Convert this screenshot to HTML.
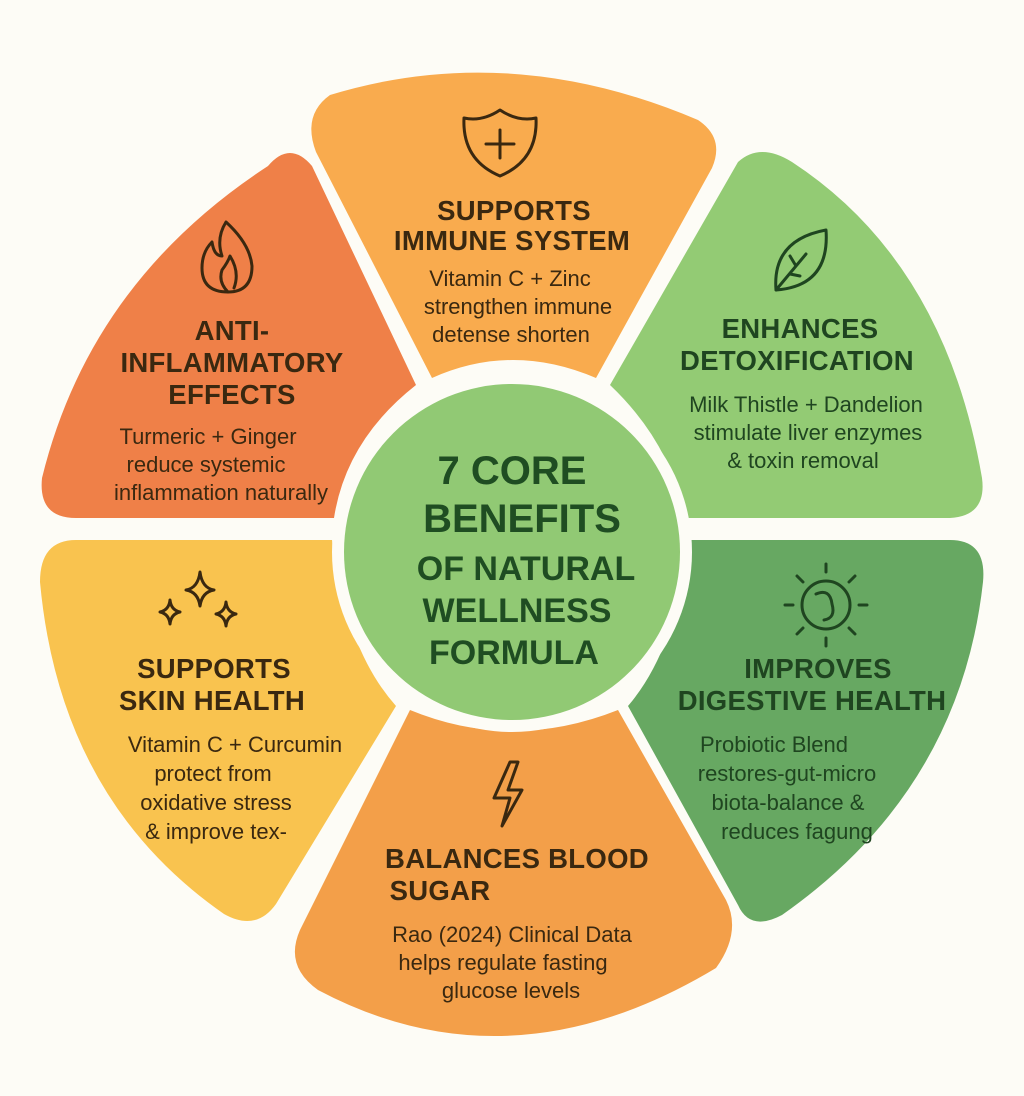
<!DOCTYPE html>
<html><head><meta charset="utf-8"><style>
html,body{margin:0;padding:0;background:#fdfcf6;}
svg{display:block}
text{font-family:"Liberation Sans",sans-serif;}
.t{font-weight:bold;font-size:27.5px;text-anchor:middle;letter-spacing:0.3px}
.b{font-size:22px;text-anchor:middle}
.c{font-weight:bold;font-size:40px;text-anchor:middle;fill:#1f4d22}
.c2{font-weight:bold;font-size:34px;text-anchor:middle;fill:#1f4d22}
.br{fill:#3a2810}.gr{fill:#1f4520}
.ic{fill:none;stroke-width:3;stroke-linecap:round;stroke-linejoin:round}
</style></head><body>
<svg width="1024" height="1096" viewBox="0 0 1024 1096">
<rect width="1024" height="1096" fill="#fdfcf6"/>
<path d="M330,95 Q510,40 698,120 Q725,138 712,168 L596,378 Q512,342 432,378 L316,152 Q302,115 330,95 Z" fill="#f9ab4e"/>
<path d="M738,162 Q760,142 792,162 Q945,262 982,478 Q987,516 950,518 L684,518 Q672,444 610,385 Z" fill="#93cb74"/>
<path d="M690,540 L950,540 Q987,540 983,582 Q960,790 782,915 Q750,932 738,905 L628,706 Q676,650 690,540 Z" fill="#67a862"/>
<path d="M410,710 Q512,752 618,710 L726,900 Q742,932 716,968 Q510,1092 318,990 Q284,966 300,930 Z" fill="#f39f49"/>
<path d="M40,582 Q40,540 76,540 L332,540 Q346,650 396,706 L276,904 Q256,932 224,914 Q60,800 40,582 Z" fill="#f9c34f"/>
<path d="M268,166 Q290,140 312,166 L416,385 Q346,440 334,518 L76,518 Q38,518 42,478 Q90,282 268,166 Z" fill="#ef8048"/>
<circle cx="512" cy="552" r="180" fill="#fdfcf6"/>
<circle cx="512" cy="552" r="168" fill="#91c974"/>
<text class="c" x="512" y="484">7 CORE</text>
<text class="c" x="522" y="532">BENEFITS</text>
<text class="c2" x="526" y="580">OF NATURAL</text>
<text class="c2" x="517" y="622">WELLNESS</text>
<text class="c2" x="514" y="664">FORMULA</text>
<path class="ic" stroke="#3a2810" d="M500,110 Q518,122 536,118 Q538,160 500,176 Q462,160 464,118 Q482,122 500,110 Z"/>
<path class="ic" stroke="#3a2810" d="M500,130 V158 M486,144 H514"/>
<text class="t br" x="514" y="220">SUPPORTS</text>
<text class="t br" x="512" y="250">IMMUNE SYSTEM</text>
<text class="b br" x="510" y="286">Vitamin C + Zinc</text>
<text class="b br" x="518" y="314">strengthen immune</text>
<text class="b br" x="511" y="342">detense shorten</text>
<path class="ic" stroke="#1f4520" d="M776,290 Q772,240 826,230 Q830,286 776,290 Z M776,290 L806,254 M796,266 L790,256 M790,274 L800,276"/>
<text class="t gr" x="800" y="338">ENHANCES</text>
<text class="t gr" x="797" y="370">DETOXIFICATION</text>
<text class="b gr" x="806" y="412">Milk Thistle + Dandelion</text>
<text class="b gr" x="808" y="440">stimulate liver enzymes</text>
<text class="b gr" x="803" y="468">&amp; toxin removal</text>
<circle class="ic" stroke="#1f4520" cx="826" cy="605" r="24"/>
<path class="ic" stroke="#1f4520" d="M826,572 V564 M826,638 V646 M793,605 H785 M859,605 H867 M803,582 L797,576 M849,582 L855,576 M803,628 L797,634 M849,628 L855,634 M816,594 Q830,588 832,604 Q836,618 824,620"/>
<text class="t gr" x="818" y="678">IMPROVES</text>
<text class="t gr" x="812" y="710">DIGESTIVE HEALTH</text>
<text class="b gr" x="774" y="752">Probiotic Blend</text>
<text class="b gr" x="787" y="781">restores-gut-micro</text>
<text class="b gr" x="788" y="810">biota-balance &amp;</text>
<text class="b gr" x="797" y="839">reduces fagung</text>
<path class="ic" stroke="#3a2810" d="M510,762 L494,798 H510 L502,826 L522,790 H508 L518,762 Z"/>
<text class="t br" x="517" y="868">BALANCES BLOOD</text>
<text class="t br" x="440" y="900">SUGAR</text>
<text class="b br" x="512" y="942">Rao (2024) Clinical Data</text>
<text class="b br" x="503" y="970">helps regulate fasting</text>
<text class="b br" x="511" y="998">glucose levels</text>
<path class="ic" stroke="#3a2810" d="M200,572 Q202,588 214,590 Q202,592 200,606 Q198,592 186,590 Q198,588 200,572 Z M170,600 Q171,610 180,612 Q171,614 170,624 Q169,614 160,612 Q169,610 170,600 Z M226,602 Q227,612 236,614 Q227,616 226,626 Q225,616 216,614 Q225,612 226,602 Z"/>
<text class="t br" x="214" y="678">SUPPORTS</text>
<text class="t br" x="212" y="710">SKIN HEALTH</text>
<text class="b br" x="235" y="752">Vitamin C + Curcumin</text>
<text class="b br" x="213" y="781">protect from</text>
<text class="b br" x="216" y="810">oxidative stress</text>
<text class="b br" x="216" y="839">&amp; improve tex-</text>
<path class="ic" stroke="#3a2810" d="M226,222 Q250,244 252,266 Q252,292 228,292 Q202,292 202,268 Q202,252 212,242 Q214,256 222,256 Q216,238 226,222 Z M228,292 Q218,282 222,270 Q228,262 230,256 Q240,272 234,288"/>
<text class="t br" x="232" y="340">ANTI-</text>
<text class="t br" x="232" y="372">INFLAMMATORY</text>
<text class="t br" x="232" y="404">EFFECTS</text>
<text class="b br" x="208" y="444">Turmeric + Ginger</text>
<text class="b br" x="206" y="472">reduce systemic</text>
<text class="b br" x="221" y="500">inflammation naturally</text>
</svg>
</body></html>
